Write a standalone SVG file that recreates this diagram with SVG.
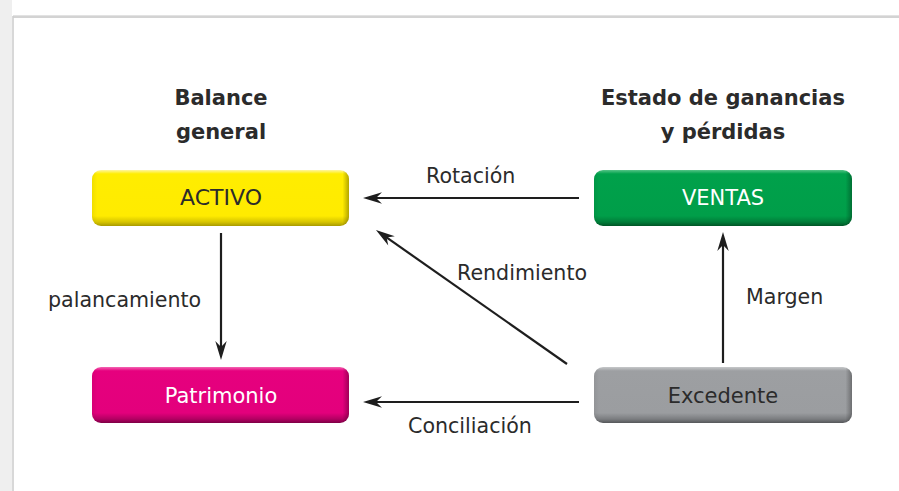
<svg xmlns="http://www.w3.org/2000/svg" width="899" height="491" viewBox="0 0 899 491">
<style>
.hdr{font-family:"DejaVu Sans","Liberation Sans",sans-serif;font-weight:bold;font-size:21px;fill:#2b2b2b;text-anchor:middle}
.lbl{font-family:"DejaVu Sans","Liberation Sans",sans-serif;font-size:20.6px;fill:#2b2b2b}
.box{font-family:"DejaVu Sans","Liberation Sans",sans-serif;font-size:21px;text-anchor:middle}
.edge{stroke:#1e1e1e;stroke-width:2.2;fill:none;marker-end:url(#arr)}
.side{fill:url(#side)}
</style>
<defs>
<marker id="arr" viewBox="0 0 20 12" refX="8" refY="6" markerWidth="20" markerHeight="12" markerUnits="userSpaceOnUse" orient="auto">
<path d="M20,6 L1,0.3 L7,6 L1,11.7 Z" fill="#1e1e1e"/>
</marker>
<linearGradient id="gY" x1="0" y1="0" x2="0" y2="1">
<stop offset="0" stop-color="#fff6a0"/><stop offset="0.07" stop-color="#ffed00"/><stop offset="0.82" stop-color="#ffeb00"/><stop offset="0.93" stop-color="#d6c400"/><stop offset="1" stop-color="#a89a00"/>
</linearGradient>
<linearGradient id="gG" x1="0" y1="0" x2="0" y2="1">
<stop offset="0" stop-color="#55c487"/><stop offset="0.07" stop-color="#00a14b"/><stop offset="0.82" stop-color="#009e49"/><stop offset="0.93" stop-color="#007d39"/><stop offset="1" stop-color="#005526"/>
</linearGradient>
<linearGradient id="gM" x1="0" y1="0" x2="0" y2="1">
<stop offset="0" stop-color="#f465b3"/><stop offset="0.07" stop-color="#e6007e"/><stop offset="0.82" stop-color="#e3007c"/><stop offset="0.93" stop-color="#b30062"/><stop offset="1" stop-color="#7d0045"/>
</linearGradient>
<linearGradient id="gX" x1="0" y1="0" x2="0" y2="1">
<stop offset="0" stop-color="#c6c8ca"/><stop offset="0.07" stop-color="#9d9fa2"/><stop offset="0.82" stop-color="#9b9da0"/><stop offset="0.93" stop-color="#7b7d80"/><stop offset="1" stop-color="#55575a"/>
</linearGradient>
<linearGradient id="side" x1="0" y1="0" x2="1" y2="0">
<stop offset="0" stop-color="#000" stop-opacity="0.06"/><stop offset="0.02" stop-color="#000" stop-opacity="0"/><stop offset="0.975" stop-color="#000" stop-opacity="0"/><stop offset="1" stop-color="#000" stop-opacity="0.3"/>
</linearGradient>
</defs>
<rect x="0" y="0" width="899" height="491" fill="#ffffff"/>
<rect x="0" y="0" width="12" height="491" fill="#efefef"/>
<g id="frame">
<line x1="13" y1="16.5" x2="899" y2="16.5" stroke="#e2e2e2" stroke-width="3"/>
<line x1="13" y1="17" x2="899" y2="17" stroke="#c4c4c4" stroke-width="1.2"/>
<line x1="13" y1="16" x2="13" y2="491" stroke="#cfcfcf" stroke-width="1.6"/>
</g>
<g id="headers">
<text class="hdr" x="221" y="105">Balance</text>
<text class="hdr" x="221" y="139">general</text>
<text class="hdr" x="723" y="105">Estado de ganancias</text>
<text class="hdr" x="723" y="139">y pérdidas</text>
</g>
<g id="connectors">
<line class="edge" x1="579" y1="198" x2="375" y2="198"/>
<line class="edge" x1="579" y1="402" x2="375" y2="402"/>
<line class="edge" x1="221" y1="233" x2="221" y2="348"/>
<line class="edge" x1="723" y1="363" x2="723" y2="244"/>
<line class="edge" x1="567" y1="364" x2="385.8" y2="236.9"/>
<text class="lbl" x="426" y="183">Rotación</text>
<text class="lbl" x="457" y="280">Rendimiento</text>
<text class="lbl" x="746" y="304">Margen</text>
<text class="lbl" x="48" y="307">palancamiento</text>
<text class="lbl" x="408" y="433">Conciliación</text>
</g>
<g id="node-activo">
<rect x="92" y="170" width="257" height="56" rx="9" fill="url(#gY)"/>
<rect class="side" x="92" y="170" width="257" height="56" rx="9"/>
<text class="box" x="221" y="205" fill="#2b2b2b" style="font-size:22px">ACTIVO</text>
</g>
<g id="node-ventas">
<rect x="594" y="170" width="258" height="56" rx="9" fill="url(#gG)"/>
<rect class="side" x="594" y="170" width="258" height="56" rx="9"/>
<text class="box" x="723" y="205" fill="#ffffff">VENTAS</text>
</g>
<g id="node-patrimonio">
<rect x="92" y="367" width="257" height="56" rx="9" fill="url(#gM)"/>
<rect class="side" x="92" y="367" width="257" height="56" rx="9"/>
<text class="box" x="221" y="403" fill="#ffffff">Patrimonio</text>
</g>
<g id="node-excedente">
<rect x="594" y="367" width="258" height="56" rx="9" fill="url(#gX)"/>
<rect class="side" x="594" y="367" width="258" height="56" rx="9"/>
<text class="box" x="723" y="403" fill="#2b2b2b">Excedente</text>
</g>
</svg>
